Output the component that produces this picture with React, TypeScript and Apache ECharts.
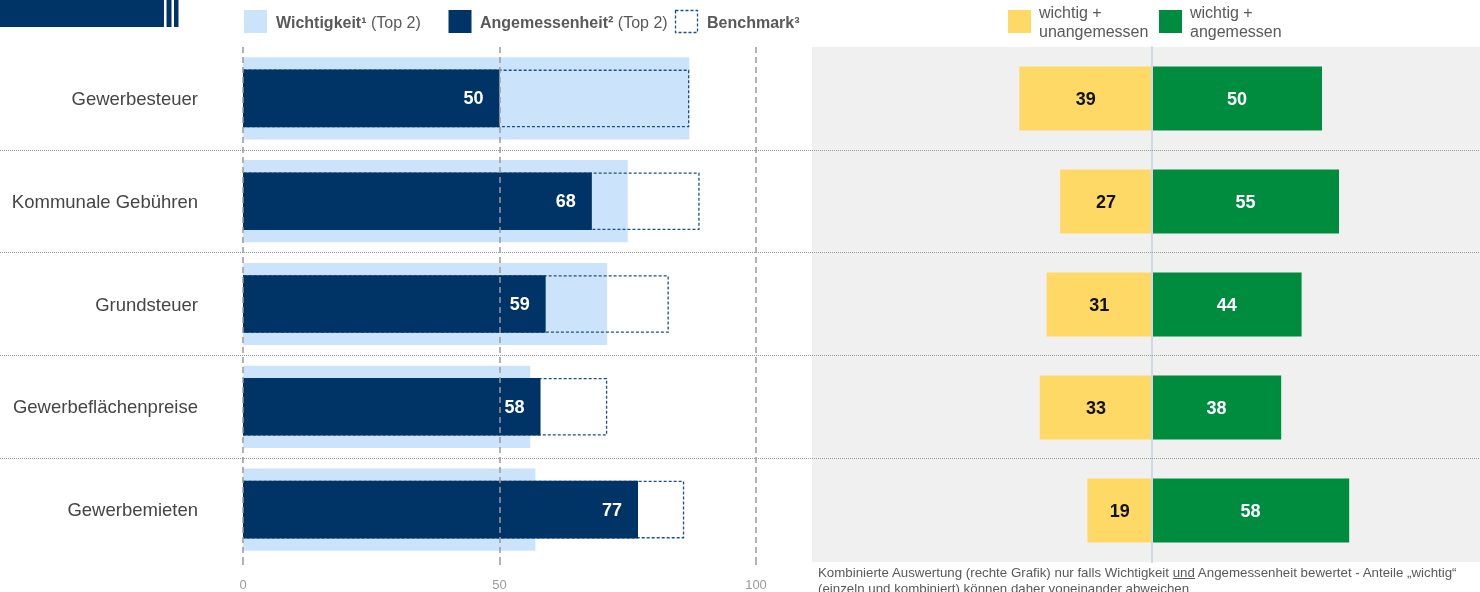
import React, { useEffect, useRef } from "react";
import * as echarts from "echarts";

const categories = ["Gewerbesteuer", "Kommunale Gebühren", "Grundsteuer", "Gewerbeflächenpreise", "Gewerbemieten"];
const wichtigkeit = [87, 75, 71, 56, 57];
const angemessenheit = [50, 68, 59, 58, 77];
const benchmark = [87, 89, 83, 71, 86];
const wichtigUnangemessen = [39, 27, 31, 33, 19];
const wichtigAngemessen = [50, 55, 44, 38, 58];
const leftAxisTicks = { min: 0, max: 100, interval: 50 };
const rightAxisRange = { min: -90, max: 90 };

const FONT = "'Liberation Sans', Arial, sans-serif";
const NAVY = "#003466";
const LIGHT = "#cce4fb";
const YELLOW = "#fed966";
const GREEN = "#008c3e";
const GREYTXT = "#595959";

export default function App() {
  const ref = useRef<HTMLDivElement>(null);
  useEffect(() => {
    if (!ref.current) return;
    const chart = echarts.init(ref.current, undefined, { renderer: "svg" });
    const option: any = {
      animation: false,
      textStyle: { fontFamily: FONT },
      grid: [
        { left: 243, width: 513, top: 47, height: 514 },
        { left: 846, width: 612, top: 47, height: 515 },
        { left: 0, right: 0, top: 47, height: 514 },
      ],
      xAxis: [
        {
          gridIndex: 0, type: "value", ...leftAxisTicks, z: 10,
          axisLine: { show: false },
          axisTick: { show: true, length: 6, lineStyle: { color: "#999", width: 1.5, type: [4, 2] } },
          axisLabel: { color: "#9a9a9a", fontSize: 13, margin: 17, fontFamily: FONT },
          splitLine: { show: true, lineStyle: { type: [6, 4], color: "#999", width: 1.5 } },
        },
        { gridIndex: 1, type: "value", ...rightAxisRange, show: false },
        { gridIndex: 2, type: "value", min: 0, max: 1, show: false },
      ],
      yAxis: [
        {
          gridIndex: 0, type: "category", data: categories, inverse: true,
          axisLine: { show: false }, axisTick: { show: false },
          axisLabel: { fontSize: 18.5, color: "#454545", margin: 45, fontFamily: FONT },
        },
        { gridIndex: 0, type: "category", data: categories, inverse: true, show: false },
        {
          gridIndex: 1, type: "category", data: categories, inverse: true, z: 5,
          axisLine: { show: true, onZero: true, lineStyle: { color: "#d3d9e3", width: 2 } },
          axisTick: { show: false }, axisLabel: { show: false },
        },
        {
          gridIndex: 2, type: "category", data: categories, inverse: true, z: 6,
          axisLine: { show: false }, axisTick: { show: false }, axisLabel: { show: false },
          splitLine: { show: true, showMinLine: false, showMaxLine: false, lineStyle: { type: "dotted", color: "#9a9a9a", width: 1 } },
        },
      ],
      series: [
        {
          name: "Wichtigkeit", type: "bar", xAxisIndex: 0, yAxisIndex: 0, data: wichtigkeit,
          barWidth: "80%", itemStyle: { color: LIGHT },
        },
        {
          name: "Benchmark", type: "bar", xAxisIndex: 0, yAxisIndex: 1, data: benchmark,
          barWidth: "56%", barGap: "-100%",
          itemStyle: { color: "rgba(0,0,0,0)", borderColor: "#1f4e80", borderWidth: 1.3, borderType: [3, 2] },
        },
        {
          name: "Angemessenheit", type: "bar", xAxisIndex: 0, yAxisIndex: 1, data: angemessenheit,
          barWidth: "56%", barGap: "-100%", itemStyle: { color: NAVY },
          label: { show: true, position: "insideRight", distance: 16, color: "#fff", fontWeight: "bold", fontSize: 18, fontFamily: FONT },
        },
        {
          name: "wichtig + unangemessen", type: "bar", xAxisIndex: 1, yAxisIndex: 2,
          data: wichtigUnangemessen.map((v) => -v), barWidth: "62%", itemStyle: { color: YELLOW },
          label: { show: true, position: "inside", formatter: (p: any) => String(Math.abs(p.value)), color: "#111", fontWeight: "bold", fontSize: 18, fontFamily: FONT },
        },
        {
          name: "wichtig + angemessen", type: "bar", xAxisIndex: 1, yAxisIndex: 2,
          data: wichtigAngemessen, barWidth: "62%", barGap: "-100%", itemStyle: { color: GREEN },
          label: { show: true, position: "inside", color: "#fff", fontWeight: "bold", fontSize: 18, fontFamily: FONT },
        },
      ],
      graphic: [
        { type: "rect", z: -1, shape: { x: 812, y: 47, width: 668, height: 515 }, style: { fill: "#f0f0f0" } },
        { type: "rect", shape: { x: 0, y: 0, width: 164, height: 27 }, style: { fill: NAVY } },
        { type: "rect", shape: { x: 166.5, y: 0, width: 5, height: 27 }, style: { fill: NAVY } },
        { type: "rect", shape: { x: 174, y: 0, width: 4.5, height: 27 }, style: { fill: NAVY } },
        // left legend
        { type: "rect", shape: { x: 244, y: 10, width: 23, height: 23 }, style: { fill: LIGHT } },
        {
          type: "text", x: 276, y: 22,
          style: {
            text: "{b|Wichtigkeit¹} {r|(Top 2)}", verticalAlign: "middle",
            rich: { b: { fontWeight: "bold", fontSize: 16, fill: GREYTXT, fontFamily: FONT }, r: { fontSize: 16, fill: GREYTXT, fontFamily: FONT } },
            fontSize: 16, fontFamily: FONT, fill: GREYTXT,
          },
        },
        { type: "rect", shape: { x: 448.5, y: 10, width: 23, height: 23 }, style: { fill: NAVY } },
        {
          type: "text", x: 480, y: 22,
          style: {
            text: "{b|Angemessenheit²} {r|(Top 2)}", verticalAlign: "middle",
            rich: { b: { fontWeight: "bold", fontSize: 16, fill: GREYTXT, fontFamily: FONT }, r: { fontSize: 16, fill: GREYTXT, fontFamily: FONT } },
            fontSize: 16, fontFamily: FONT, fill: GREYTXT,
          },
        },
        { type: "rect", shape: { x: 675.5, y: 10.5, width: 22, height: 22 }, style: { fill: "#fff", stroke: "#1f4e80", lineWidth: 1.3, lineDash: [3, 2] } },
        {
          type: "text", x: 707, y: 22,
          style: { text: "Benchmark³", verticalAlign: "middle", fontWeight: "bold", fontSize: 16, fontFamily: FONT, fill: GREYTXT },
        },
        // right legend
        { type: "rect", shape: { x: 1008, y: 10, width: 23, height: 23 }, style: { fill: YELLOW } },
        {
          type: "text", x: 1039, y: 21.5,
          style: { text: "wichtig +\nunangemessen", verticalAlign: "middle", lineHeight: 19, fontSize: 16, fontFamily: FONT, fill: GREYTXT },
        },
        { type: "rect", shape: { x: 1159, y: 10, width: 23, height: 23 }, style: { fill: GREEN } },
        {
          type: "text", x: 1190, y: 21.5,
          style: { text: "wichtig +\nangemessen", verticalAlign: "middle", lineHeight: 19, fontSize: 16, fontFamily: FONT, fill: GREYTXT },
        },
        // footnote
        {
          type: "text", x: 818, y: 572,
          style: { text: "Kombinierte Auswertung (rechte Grafik) nur falls Wichtigkeit und Angemessenheit bewertet - Anteile „wichtig“", verticalAlign: "middle", fontSize: 13.3, fontFamily: FONT, fill: GREYTXT },
        },
        { type: "line", shape: { x1: 1173, y1: 578.5, x2: 1195, y2: 578.5 }, style: { stroke: GREYTXT, lineWidth: 1 } },
        {
          type: "text", x: 818, y: 588.5,
          style: { text: "(einzeln und kombiniert) können daher voneinander abweichen", verticalAlign: "middle", fontSize: 13.3, fontFamily: FONT, fill: GREYTXT },
        },
      ],
    };
    chart.setOption(option);
    return () => chart.dispose();
  }, []);
  return <div ref={ref} style={{ position: "fixed", left: 0, top: 0, width: 1480, height: 592 }} />;
}
